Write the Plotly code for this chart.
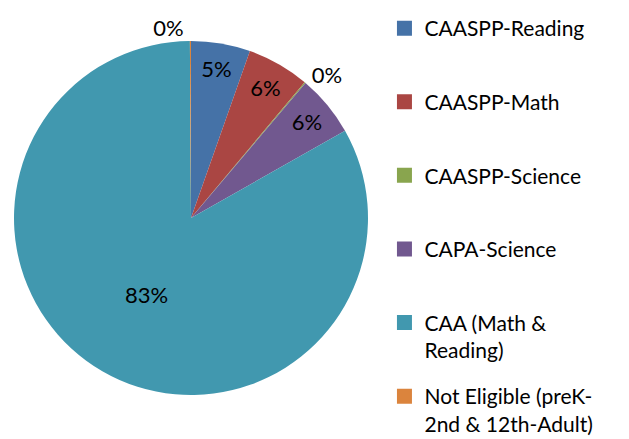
import plotly.graph_objects as go

categories = ["CAASPP-Reading", "CAASPP-Math", "CAASPP-Science", "CAPA-Science",
              "CAA (Math & Reading)", "Not Eligible (preK-2nd & 12th-Adult)"]
legend_labels = ["CAASPP-Reading<br> ", "CAASPP-Math<br> ", "CAASPP-Science<br> ",
                 "CAPA-Science<br> ", "CAA (Math &<br>Reading)",
                 "Not Eligible (preK-<br>2nd & 12th-Adult)"]
values = [5.4, 5.7, 0.1, 5.6, 83.1, 0.1]
colors = ["#4572A7", "#AA4643", "#89A54E", "#71588F", "#4198AF", "#DB843D"]
text_positions = ["inside", "inside", "outside", "inside", "inside", "outside"]

FONT = "Lato"

fig = go.Figure()
fig.add_trace(go.Pie(
    labels=categories, values=values, sort=False, direction="clockwise", rotation=0,
    marker=dict(colors=colors, line=dict(width=0)),
    texttemplate="%{percent:.0%}", textposition=text_positions,
    insidetextorientation="horizontal",
    textfont=dict(family=FONT, size=22, color="black"),
    domain=dict(x=[6/629, 360/629], y=[1 - 387/439, 1 - 33/439]),
    showlegend=False, hoverinfo="label+percent",
))
for lab, c in zip(legend_labels, colors):
    fig.add_trace(go.Scatter(x=[None], y=[None], mode="markers", name=lab, legendgroup=lab,
                             marker=dict(symbol="square", size=15, color=c)))

fig.update_layout(
    width=629, height=439, margin=dict(l=0, r=0, t=0, b=0),
    paper_bgcolor="white", plot_bgcolor="white",
    xaxis=dict(visible=False), yaxis=dict(visible=False),
    font=dict(family=FONT, size=21, color="black"),
    legend=dict(x=0.5985, y=1, xanchor="left", yanchor="top", traceorder="grouped",
                tracegroupgap=16, valign="top", font=dict(family=FONT, size=21, color="black")),
)
fig.write_html("out.html")
